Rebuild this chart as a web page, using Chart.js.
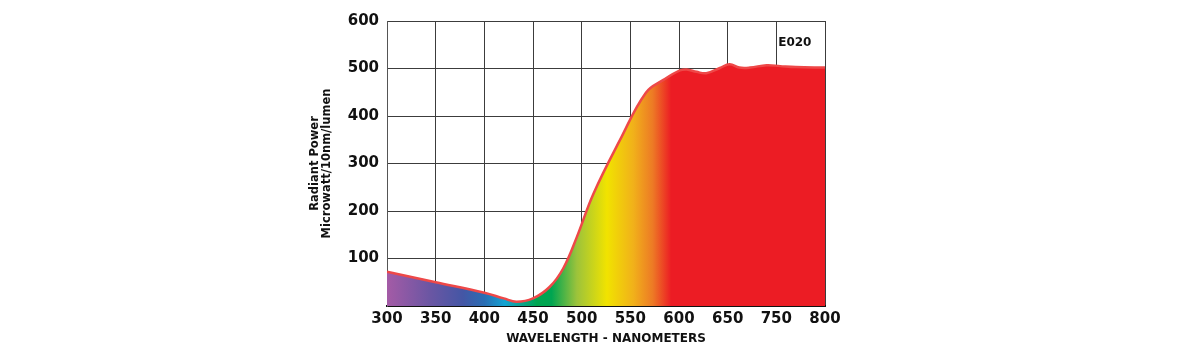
<!DOCTYPE html>
<html>
<head>
<meta charset="utf-8">
<script src="https://cdn.jsdelivr.net/npm/chart.js@4/dist/chart.umd.min.js"></script>
<style>
  html, body { margin: 0; padding: 0; background: #fff; }
  #wrap { width: 1200px; height: 364px; }
</style>
</head>
<body>
<div id="wrap"><canvas id="c" width="1200" height="364"></canvas></div>
<script>
// ---- data (x in axis units; axis ticks every 50, labels as printed) ----
const wavelengths = [300, 350, 400, 420, 433, 450, 467, 481, 495, 512, 539, 566, 584, 601, 608, 618, 628, 642, 652, 662, 673, 690, 704, 720, 750];
const radiantPower = [72, 50, 28, 16, 9, 16, 40, 79, 145, 236, 348, 449, 476, 496, 498, 493, 490, 501, 509, 502, 502, 507, 505, 503, 502];
const xTickLabels = ['300', '350', '400', '450', '500', '550', '600', '650', '750', '800'];
const yTickValues = [100, 200, 300, 400, 500, 600];
const gradientStopWl = [300, 344, 378, 400, 421, 454, 469, 495, 526, 553, 573, 592];
const gradientStopColors = ['#a45ba6', '#6b56a3', '#4456a5', '#2a6db3', '#13a3d2', '#00a651', '#00a551', '#9cc33b', '#f1e300', '#f1b11a', '#ed7a25', '#ec1c24'];
const xTitle = 'WAVELENGTH - NANOMETERS';
const yTitle = ['Radiant Power', 'Microwatt/10nm/lumen'];
const tagText = 'E020';
const tagPos = { x: 719, y: 555 };

const FONT = "'DejaVu Sans', Arial, sans-serif";

function fillGradient(context) {
  const chart = context.chart;
  const area = chart.chartArea;
  if (!area) return '#ec1c24';
  const xs = chart.scales.x;
  const x0 = xs.getPixelForValue(300), x1 = xs.getPixelForValue(750);
  const g = chart.ctx.createLinearGradient(x0, 0, x1, 0);
  gradientStopWl.forEach((wl, i) => {
    g.addColorStop(Math.min(1, Math.max(0, (wl - 300) / 450)), gradientStopColors[i]);
  });
  return g;
}

const tagPlugin = {
  id: 'tag',
  afterDatasetsDraw(chart) {
    const ctx = chart.ctx;
    ctx.save();
    ctx.font = 'bold 12px ' + FONT;
    ctx.fillStyle = '#111';
    ctx.textAlign = 'center';
    ctx.textBaseline = 'middle';
    ctx.fillText(tagText, chart.scales.x.getPixelForValue(tagPos.x), chart.scales.y.getPixelForValue(tagPos.y));
    ctx.restore();
  }
};

new Chart(document.getElementById('c'), {
  type: 'line',
  data: {
    datasets: [{
      data: wavelengths.map((w, i) => ({ x: w, y: radiantPower[i] })),
      borderColor: '#ee4848',
      borderWidth: 2.5,
      pointRadius: 0,
      tension: 0.4,
      fill: 'origin',
      backgroundColor: fillGradient
    }]
  },
  options: {
    responsive: false,
    animation: false,
    layout: { padding: { left: 300, right: 375, top: 21, bottom: 0 } },
    plugins: { legend: { display: false }, tooltip: { enabled: false } },
    scales: {
      x: {
        type: 'linear',
        min: 300, max: 750,
        afterFit: s => { s.height = 58; },
        ticks: {
          stepSize: 50,
          padding: 4,
          color: '#111',
          font: { family: FONT, size: 15, weight: 'bold' },
          maxRotation: 0,
          autoSkip: false,
          callback: v => xTickLabels[Math.round((v - 300) / 50)]
        },
        grid: { color: '#3c3c3c', lineWidth: 1, drawTicks: false },
        border: { color: '#111', width: 2 },
        title: {
          display: true,
          text: xTitle,
          color: '#111',
          font: { family: FONT, size: 12, weight: 'bold' },
          padding: { top: 0, bottom: 18 }
        }
      },
      y: {
        min: 0, max: 600,
        afterFit: s => { s.width = 87; },
        afterBuildTicks: s => { s.ticks = [0].concat(yTickValues).map(v => ({ value: v })); },
        ticks: {
          padding: 8,
          color: '#111',
          font: { family: FONT, size: 15, weight: 'bold' },
          callback: v => (v === 0 ? '' : String(v))
        },
        grid: { color: '#3c3c3c', lineWidth: 1, drawTicks: false },
        border: { color: '#555', width: 1 },
        title: {
          display: true,
          text: yTitle,
          color: '#111',
          font: { family: FONT, size: 11.5, weight: 'bold', lineHeight: 1.05 },
          padding: { top: 9, bottom: 0 }
        }
      }
    }
  },
  plugins: [tagPlugin]
});
</script>
</body>
</html>
